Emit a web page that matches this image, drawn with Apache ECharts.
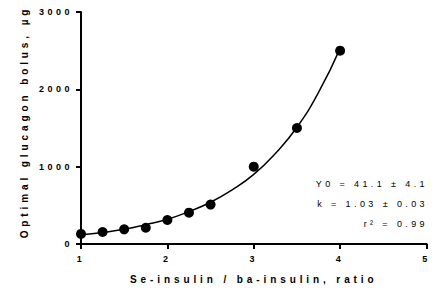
<!DOCTYPE html>
<html>
<head>
<meta charset="utf-8">
<script src="https://cdn.jsdelivr.net/npm/echarts@6/dist/echarts.min.js"></script>
<style>
  html, body { margin: 0; padding: 0; background: #fff; }
  #main { width: 432px; height: 290px; }
  #main text { letter-spacing: 3px; }
</style>
</head>
<body>
<div id="main"></div>
<script>
// measured points
var ratioX = [1, 1.25, 1.5, 1.75, 2, 2.25, 2.5, 3, 3.5, 4];
var bolusY = [130, 155, 190, 210, 310, 405, 510, 1000, 1500, 2500];

// fitted curve
var fitX = [1, 1.25, 1.5, 1.75, 2, 2.25, 2.5, 2.75, 3, 3.25, 3.5, 3.75, 4];
var fitY = [120, 150, 190, 250, 320, 420, 540, 700, 900, 1170, 1510, 1960, 2530];

var fitLabels = ['Y0 = 41.1 \u00b1 4.1', 'k = 1.03 \u00b1 0.03', 'r\u00b2 = 0.99'];

var myChart = echarts.init(document.getElementById('main'), null, { renderer: 'svg' });

var font = '"Liberation Sans", Arial, sans-serif';

myChart.setOption({
    animation: false,
    grid: { left: 81, right: 3, top: 12, bottom: 46 },
    xAxis: {
        type: 'value',
        min: 1, max: 5, interval: 1,
        name: 'Se-insulin / ba-insulin, ratio',
        nameLocation: 'middle',
        nameGap: 30,
        nameTextStyle: { color: '#000', fontFamily: font, fontWeight: 'bold', fontSize: 10 },
        axisLine: { lineStyle: { color: '#000', width: 2 } },
        axisTick: { length: 5, lineStyle: { color: '#000', width: 2 } },
        axisLabel: { color: '#000', fontFamily: font, fontWeight: 'bold', fontSize: 9, margin: 10 },
        splitLine: { show: false }
    },
    yAxis: {
        type: 'value',
        min: 0, max: 3000, interval: 1000,
        name: 'Optimal glucagon bolus, \u00b5g',
        nameLocation: 'middle',
        nameGap: 52,
        nameTextStyle: {
            color: '#000', fontFamily: font, fontWeight: 'bold', fontSize: 10,
            padding: [0, 0, 0, 12]
        },
        axisLine: { show: true, lineStyle: { color: '#000', width: 2 } },
        axisTick: { show: true, length: 5, lineStyle: { color: '#000', width: 2 } },
        axisLabel: {
            color: '#000', fontFamily: font, fontWeight: 'bold', fontSize: 9, margin: 8,
            formatter: function (v) { return String(v); }
        },
        splitLine: { show: false }
    },
    graphic: fitLabels.map(function (t, i) {
        return {
            type: 'text',
            right: 4,
            top: 179 + i * 20,
            style: { text: t, fill: '#000', font: '9px ' + font, textAlign: 'right' }
        };
    }),
    series: [
        {
            type: 'line',
            data: fitX.map(function (x, i) { return [x, fitY[i]]; }),
            smooth: true,
            showSymbol: false,
            lineStyle: { color: '#000', width: 1.5 },
            z: 2
        },
        {
            type: 'scatter',
            data: ratioX.map(function (x, i) { return [x, bolusY[i]]; }),
            symbolSize: 10,
            itemStyle: { color: '#000', opacity: 1 },
            z: 3
        }
    ]
});

// wider spacing on the axis titles and the fit text
document.querySelectorAll('#main text').forEach(function (el) {
    var t = el.textContent;
    if (t.indexOf('insulin') >= 0 || t.indexOf('glucagon') >= 0) {
        el.style.letterSpacing = '3.9px';
    } else if (fitLabels.indexOf(t) >= 0) {
        el.style.letterSpacing = '3.4px';
    } else {
        el.style.letterSpacing = '3.5px';
    }
});
</script>
</body>
</html>
